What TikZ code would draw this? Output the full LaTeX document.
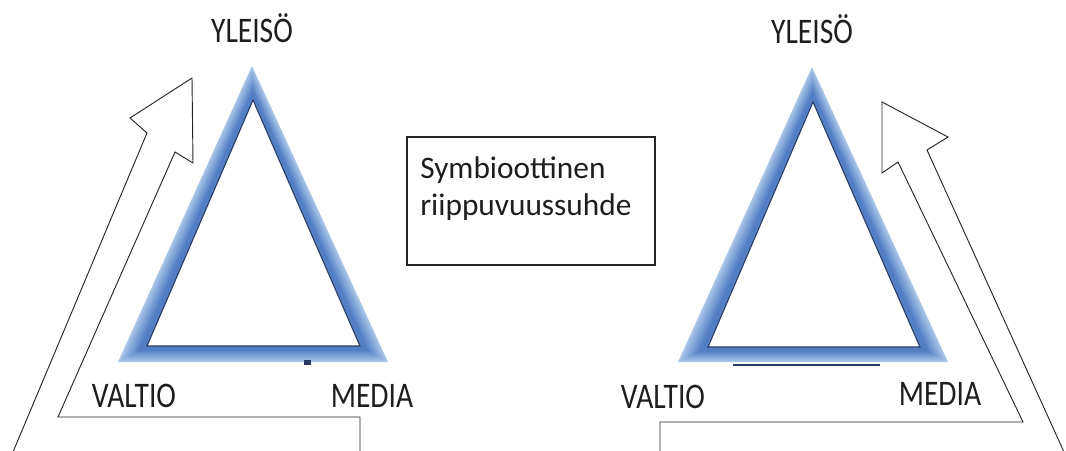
\documentclass[tikz,border=0pt]{standalone}
\usepackage{fontspec}
\usepackage{graphicx}
\setmainfont{Carlito}
\usetikzlibrary{calc}
\definecolor{triLight}{RGB}{168,196,232}
\definecolor{triDark}{RGB}{82,126,196}
\definecolor{triEdge}{RGB}{40,58,98}
\definecolor{txt}{RGB}{30,30,30}
\begin{document}
\begin{tikzpicture}[x=0.75pt,y=-0.75pt,
  vlabel/.style={text=txt, font=\fontsize{27}{27}\selectfont, inner sep=0pt, anchor=base},
  arrowline/.style={draw=black!85, line width=0.7pt, line join=miter},
  textbox/.style={draw=black!85, line width=0.8pt, minimum width=186pt, minimum height=96pt, inner sep=0pt},
  boxtext/.style={align=left, text=txt, font=\fontsize{23.5}{27.75}\selectfont, inner sep=0pt, anchor=base west}]
\useasboundingbox (0,0) rectangle (1066,450);
\clip (0,0) rectangle (1066,450);

% ---------- left arrow ----------
\coordinate (la0) at (13,452);
\coordinate (la1) at (147,133);
\coordinate (la2) at (130,118);
\coordinate (la3) at (192,78);
\coordinate (la4) at (193,163);
\coordinate (la5) at (175,152);
\coordinate (la6) at (58,417);
\coordinate (la7) at (360,417);
\coordinate (la8) at (360,452);
\draw[arrowline] (la0) -- (la1) -- (la2) -- (la3) -- (la4) -- (la5) -- (la6) -- (la7) -- (la8);

% ---------- right arrow ----------
\coordinate (ra0) at (660,452);
\coordinate (ra1) at (660,422);
\coordinate (ra2) at (1023,422);
\coordinate (ra3) at (898,162);
\coordinate (ra4) at (882,173);
\coordinate (ra5) at (882,102);
\coordinate (ra6) at (948,137);
\coordinate (ra7) at (927,150);
\coordinate (ra8) at (1064,452);
\draw[arrowline] (ra0) -- (ra1) -- (ra2) -- (ra3) -- (ra4) -- (ra5) -- (ra6) -- (ra7) -- (ra8);

% ---------- left triangle ----------
\coordinate (LA) at (252,66);  \coordinate (LB) at (118,362); \coordinate (LC) at (388,362);
\coordinate (la) at (253,100); \coordinate (lb) at (147,346); \coordinate (lc) at (360,346);
\foreach \i in {0,...,11}{
  \pgfmathsetmacro\tt{\i/13}
  \pgfmathsetmacro\pp{min(100,\i*11)}
  \fill[triDark!\pp!triLight] ($(LA)!\tt!(la)$) -- ($(LB)!\tt!(lb)$) -- ($(LC)!\tt!(lc)$) -- cycle;
}
\filldraw[fill=white, draw=triEdge, line width=0.8pt, line join=miter] (la) -- (lb) -- (lc) -- cycle;
\fill[triEdge] (304,360) rectangle (311,365);

% ---------- right triangle ----------
\coordinate (RA) at (812,67);  \coordinate (RB) at (678,362); \coordinate (RC) at (948,362);
\coordinate (ra) at (813,102); \coordinate (rb) at (708,347); \coordinate (rc) at (920,347);
\foreach \i in {0,...,11}{
  \pgfmathsetmacro\tt{\i/13}
  \pgfmathsetmacro\pp{min(100,\i*11)}
  \fill[triDark!\pp!triLight] ($(RA)!\tt!(ra)$) -- ($(RB)!\tt!(rb)$) -- ($(RC)!\tt!(rc)$) -- cycle;
}
\filldraw[fill=white, draw=triEdge, line width=0.8pt, line join=miter] (ra) -- (rb) -- (rc) -- cycle;
\coordinate (barL) at (733,365); \coordinate (barR) at (880,365);
\draw[triEdge, line width=2.2pt] (barL) -- (barR);

% ---------- labels ----------
\node[vlabel] (yl) at (252,42) {\scalebox{0.82}[1]{YLEISÖ}};
\node[vlabel] (vl) at (134,407) {\scalebox{0.82}[1]{VALTIO}};
\node[vlabel] (ml) at (372,407) {\scalebox{0.82}[1]{MEDIA}};
\node[vlabel] (yr) at (812,43) {\scalebox{0.82}[1]{YLEISÖ}};
\node[vlabel] (vr) at (663,408) {\scalebox{0.82}[1]{VALTIO}};
\node[vlabel] (mr) at (940,405) {\scalebox{0.82}[1]{MEDIA}};

% ---------- centre box ----------
\node[textbox] (box) at (531,201) {};
\node[boxtext] (boxtxt) at (420,215) {Symbioottinen\\riippuvuussuhde};
\end{tikzpicture}
\end{document}
